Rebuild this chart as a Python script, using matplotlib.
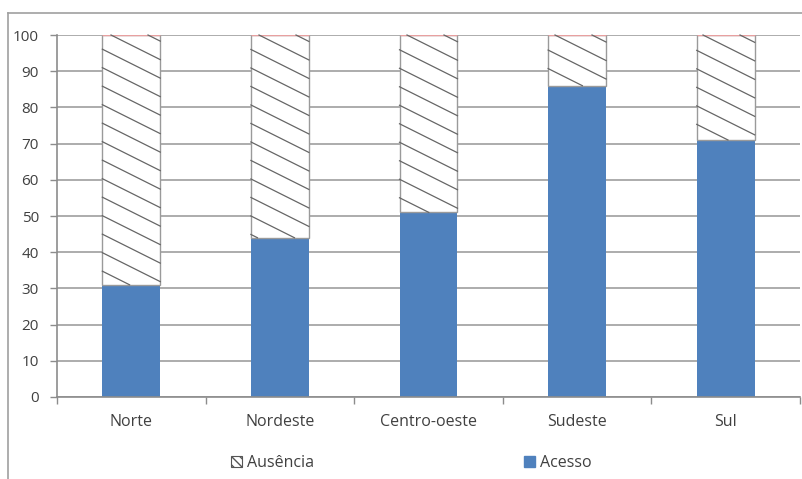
import matplotlib
matplotlib.use('agg')
from matplotlib import pyplot as plt
from matplotlib.lines import Line2D
from matplotlib.patches import Patch
import numpy as np

# data (percent)
regioes = ['Norte', 'Nordeste', 'Centro-oeste', 'Sudeste', 'Sul']
acesso = [31, 44, 51, 86, 71]
ausencia = [100 - v for v in acesso]
yticks = [0, 10, 20, 30, 40, 50, 60, 70, 80, 90, 100]

blue = '#4f81bd'
grid_c = '#a6a6a6'
txt_c = '#404040'

plt.rcParams['font.family'] = ['Open Sans', 'DejaVu Sans']

fig = plt.figure(figsize=(8.03, 4.79), dpi=100)
W, H = 803, 479
ax = fig.add_axes([57 / W, 82 / H, (800 - 57) / W, (397 - 35) / H])

x = np.arange(len(regioes))
width = 0.39
ax.bar(x, acesso, width, color=blue, zorder=2)
hbars = ax.bar(x, ausencia, width, bottom=acesso, facecolor='white',
               edgecolor='#9a9a9a', linewidth=1.0, zorder=2)

ax.set_xlim(-0.5, len(regioes) - 0.5)
ax.set_ylim(0, 100)
ax.set_yticks(yticks)
ax.set_xticks(x)
ax.set_xticklabels(regioes)
ax.set_xticks(np.arange(-0.5, len(regioes)), minor=True)
ax.tick_params(axis='x', which='major', length=0, pad=12, labelsize=11.5, labelcolor=txt_c)
ax.tick_params(axis='x', which='minor', length=5, width=1, color='#8c8c8c', direction='out')
ax.tick_params(axis='y', length=5, width=1, color='#8c8c8c', pad=8, labelsize=11, labelcolor=txt_c)
ax.yaxis.grid(True, color=grid_c, linewidth=1.3)
ax.set_axisbelow(True)
for s in ['top', 'right']:
    ax.spines[s].set_visible(False)
for s in ['left', 'bottom']:
    ax.spines[s].set_color('#8c8c8c')
    ax.spines[s].set_linewidth(1.2)

# sparse, shallow diagonal hatching like the original (pixel space, cut to each bar)
step, slope = 18.5, 0.5
for b in hbars:
    (x0, y0), (x1, y1) = ax.transData.transform([(b.get_x(), b.get_y()),
                                                 (b.get_x() + b.get_width(), b.get_y() + b.get_height())])
    kmin = int(np.floor((y0 + slope * x0) / step)) - 1
    kmax = int(np.ceil((y1 + slope * x1) / step)) + 1
    for k in range(kmin, kmax + 1):
        c = k * step
        xa = max(x0, (c - y1) / slope)
        xb = min(x1, (c - y0) / slope)
        if xb - xa < 0.5:
            continue
        ln = Line2D([xa, xb], [c - slope * xa, c - slope * xb], transform=None,
                    color='#666666', linewidth=0.9, zorder=3, clip_on=False)
        fig.add_artist(ln)
    # pinkish top edge as in the original
    ax.hlines(b.get_y() + b.get_height(), b.get_x(), b.get_x() + b.get_width(),
              color='#e8a0a0', linewidth=1.0, zorder=4)

# outer chart frame
fig.add_artist(Line2D([8 / W, 8 / W], [0, 1 - 13 / H], color='#a0a0a0', linewidth=1.2))
fig.add_artist(Line2D([8 / W, 1], [1 - 13 / H, 1 - 13 / H], color='#a0a0a0', linewidth=1.2))

handles = [Patch(facecolor='white', edgecolor='#555555', hatch='\\\\\\\\', linewidth=0.8),
           Patch(facecolor=blue, edgecolor=blue)]
fig.legend(handles, ['Ausência', 'Acesso'], loc='center', bbox_to_anchor=(411 / W, 1 - 463 / H),
           ncol=2, frameon=False, handlelength=0.7, handleheight=0.7, handletextpad=0.3,
           columnspacing=13.15, fontsize=11.5, labelcolor=txt_c)

plt.savefig('out.png', dpi=100)
plt.close()
